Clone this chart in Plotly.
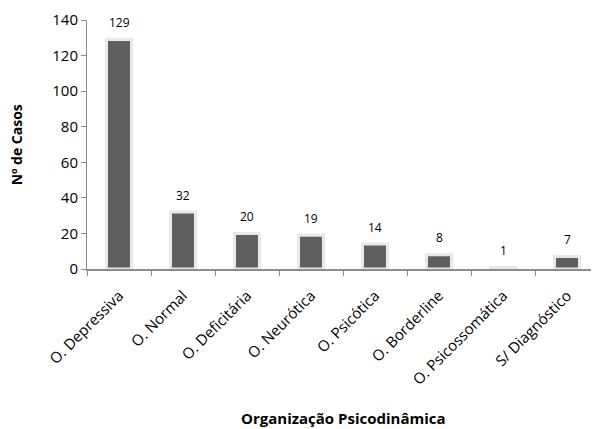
import plotly.graph_objects as go

categorias = [
    "O. Depressiva", "O. Normal", "O. Deficitária", "O. Neurótica",
    "O. Psicótica", "O. Borderline", "O. Psicossomática", "S/ Diagnóstico",
]
casos = [129, 32, 20, 19, 14, 8, 1, 7]
y_ticks = [0, 20, 40, 60, 80, 100, 120, 140]

FONT = "Open Sans, Lato, sans-serif"

fig = go.Figure()
fig.add_trace(go.Bar(
    x=categorias, y=casos,
    marker=dict(color="#5f5f5f", line=dict(color="#e8e8e8", width=3)),
    width=0.39,
    showlegend=False,
    hoverinfo="x+y",
))

# rótulos de valor acima das barras
for cat, v in zip(categorias, casos):
    fig.add_annotation(
        x=cat, y=v, text=str(v), showarrow=False,
        yanchor="middle", yshift=17,
        font=dict(size=12, color="#000000", family=FONT),
    )

# títulos dos eixos
fig.add_annotation(
    text="<b>Organização Psicodinâmica</b>", xref="paper", yref="paper",
    x=0.5, y=-0.598, showarrow=False, yanchor="middle",
    font=dict(size=15, color="#000000", family=FONT),
)
fig.add_annotation(
    text="<b>Nº de Casos</b>", xref="paper", yref="paper",
    x=-0.137, xanchor="center", y=0.5, showarrow=False, textangle=-90,
    font=dict(size=14, color="#000000", family=FONT),
)

# a página tem 8px de margem no body: a figura é um pouco menor
fig.update_layout(
    width=591, height=421,
    margin=dict(l=79, r=0, t=12, b=160),
    paper_bgcolor="white", plot_bgcolor="white",
    font=dict(family=FONT, color="#000000"),
    xaxis=dict(
        automargin=False,
        showline=True, linecolor="#8c8c8c", linewidth=2,
        ticks="outside", tickson="boundaries", ticklen=5, tickcolor="#8c8c8c",
        tickangle=-45, tickfont=dict(size=15), ticklabelstandoff=10,
        showgrid=False,
    ),
    yaxis=dict(
        automargin=False,
        range=[0, 140], tickvals=y_ticks,
        showline=True, linecolor="#8c8c8c", linewidth=1,
        ticks="outside", ticklen=5, tickcolor="#8c8c8c",
        tickfont=dict(size=15),
        showgrid=False, zeroline=False,
    ),
)

fig.write_html("out.html")
